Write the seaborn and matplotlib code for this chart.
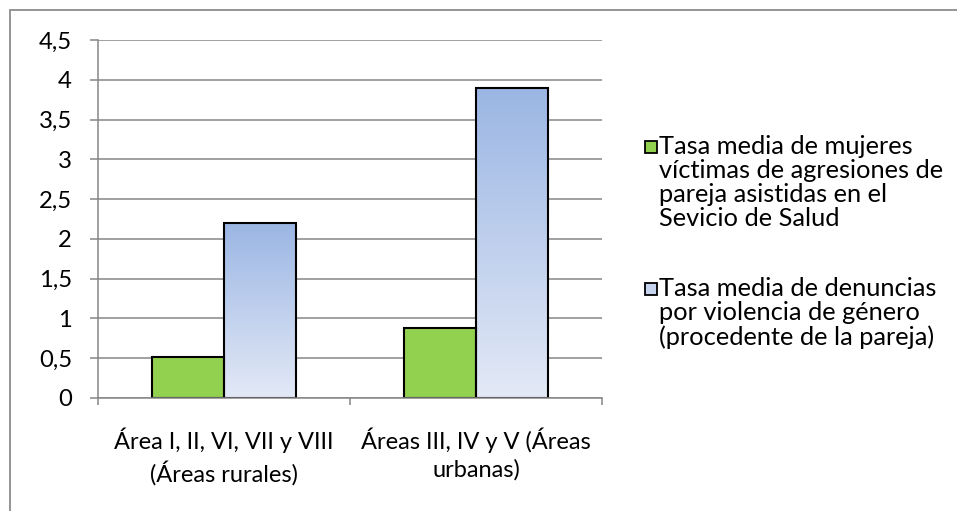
import numpy as np
import pandas as pd
import matplotlib
matplotlib.use("Agg")
import matplotlib.pyplot as plt
import seaborn as sns
from matplotlib.patches import Rectangle
from matplotlib.colors import LinearSegmentedColormap

# --- data -------------------------------------------------------------
categories = [
    "Área I, II, VI, VII y VIII\n(Áreas rurales)",
    "Áreas III, IV y V (Áreas\nurbanas)",
]
series = [
    "Tasa media de mujeres\nvíctimas de agresiones de\npareja asistidas en el\nSevicio de Salud",
    "Tasa media de denuncias\npor violencia de género\n(procedente de la pareja)",
]
asistidas = [0.52, 0.88]
denuncias = [2.2, 3.9]
yticks = [0, 0.5, 1, 1.5, 2, 2.5, 3, 3.5, 4, 4.5]
ytick_labels = ["0", "0,5", "1", "1,5", "2", "2,5", "3", "3,5", "4", "4,5"]

df = pd.DataFrame({
    "Área": categories * 2,
    "Serie": [series[0]] * len(categories) + [series[1]] * len(categories),
    "Tasa": asistidas + denuncias,
})

# --- style ------------------------------------------------------------
sns.set_theme(style="white")
plt.rcParams["font.family"] = ["Lato", "DejaVu Sans"]

GREEN = "#92D050"
BLUE_TOP = "#9BB6E4"
BLUE_BOTTOM = "#E3E9F6"
GRID = "#868686"
FS_LEG = 18.3
FS_Y = 17.2
FS_X = 17

W, H = 957, 511
fig = plt.figure(figsize=(W / 100, H / 100), dpi=100)
ax = fig.add_axes([98 / W, 1 - 398 / H, 504 / W, 358 / H])

sns.barplot(data=df, x="Área", y="Tasa", hue="Serie",
            palette=[GREEN, BLUE_BOTTOM], saturation=1, width=0.57,
            edgecolor="black", linewidth=1.5, legend=False, ax=ax)

# vertical gradient fill for the second series
cmap = LinearSegmentedColormap.from_list("grad", [BLUE_BOTTOM, BLUE_TOP])
grad = np.linspace(0, 1, 256).reshape(-1, 1)
for bar in ax.containers[1]:
    x0, y0 = bar.get_x(), bar.get_y()
    w, h = bar.get_width(), bar.get_height()
    im = ax.imshow(grad, cmap=cmap, origin="lower", aspect="auto",
                   extent=[x0, x0 + w, y0, y0 + h], zorder=bar.get_zorder() - 0.1)
    im.set_clip_path(bar)
    bar.set_facecolor("none")

ax.set_xlim(-0.5, len(categories) - 0.5)
ax.set_ylim(0, 4.5)
ax.set_yticks(yticks)
ax.set_yticklabels(ytick_labels)
ax.set_xlabel("")
ax.set_ylabel("")

ax.yaxis.grid(True, color=GRID, linewidth=1.1)
ax.set_axisbelow(True)
for side in ("top", "right"):
    ax.spines[side].set_visible(False)
for side in ("left", "bottom"):
    ax.spines[side].set_color(GRID)
    ax.spines[side].set_linewidth(1.1)

ax.tick_params(axis="y", left=True, length=5.8, width=1.1, color=GRID,
               pad=13, labelsize=FS_Y, labelcolor="black")
ax.tick_params(axis="x", which="major", bottom=False, length=0, pad=21,
               labelsize=FS_X, labelcolor="black")
ax.set_xticks(np.arange(-0.5, len(categories), 1.0), minor=True)
ax.tick_params(axis="x", which="minor", bottom=True, length=5, width=1.1,
               color=GRID)
for lab in ax.get_xticklabels():
    lab.set_linespacing(1.38)

# legend on the right, handle beside the first line of each label
legend_rows = [(GREEN, 154), ("#C6D4ED", 296)]
for (face, baseline), label in zip(legend_rows, series):
    fig.add_artist(Rectangle((645 / W, 1 - (baseline - 1) / H), 12 / W, 12 / H,
                             transform=fig.transFigure, facecolor=face,
                             edgecolor="black", linewidth=1.3))
    fig.text(659 / W, 1 - (baseline - 19) / H, label, fontsize=FS_LEG,
             va="top", ha="left", linespacing=1.06, color="black")

# chart-area border
fig.add_artist(Rectangle((10 / W, -0.1), 1.2, 1 - 10 / H + 0.1,
                         transform=fig.transFigure, fill=False,
                         edgecolor="#8C8C8C", linewidth=1.3, clip_on=False))

fig.savefig("out.png", dpi=100)
